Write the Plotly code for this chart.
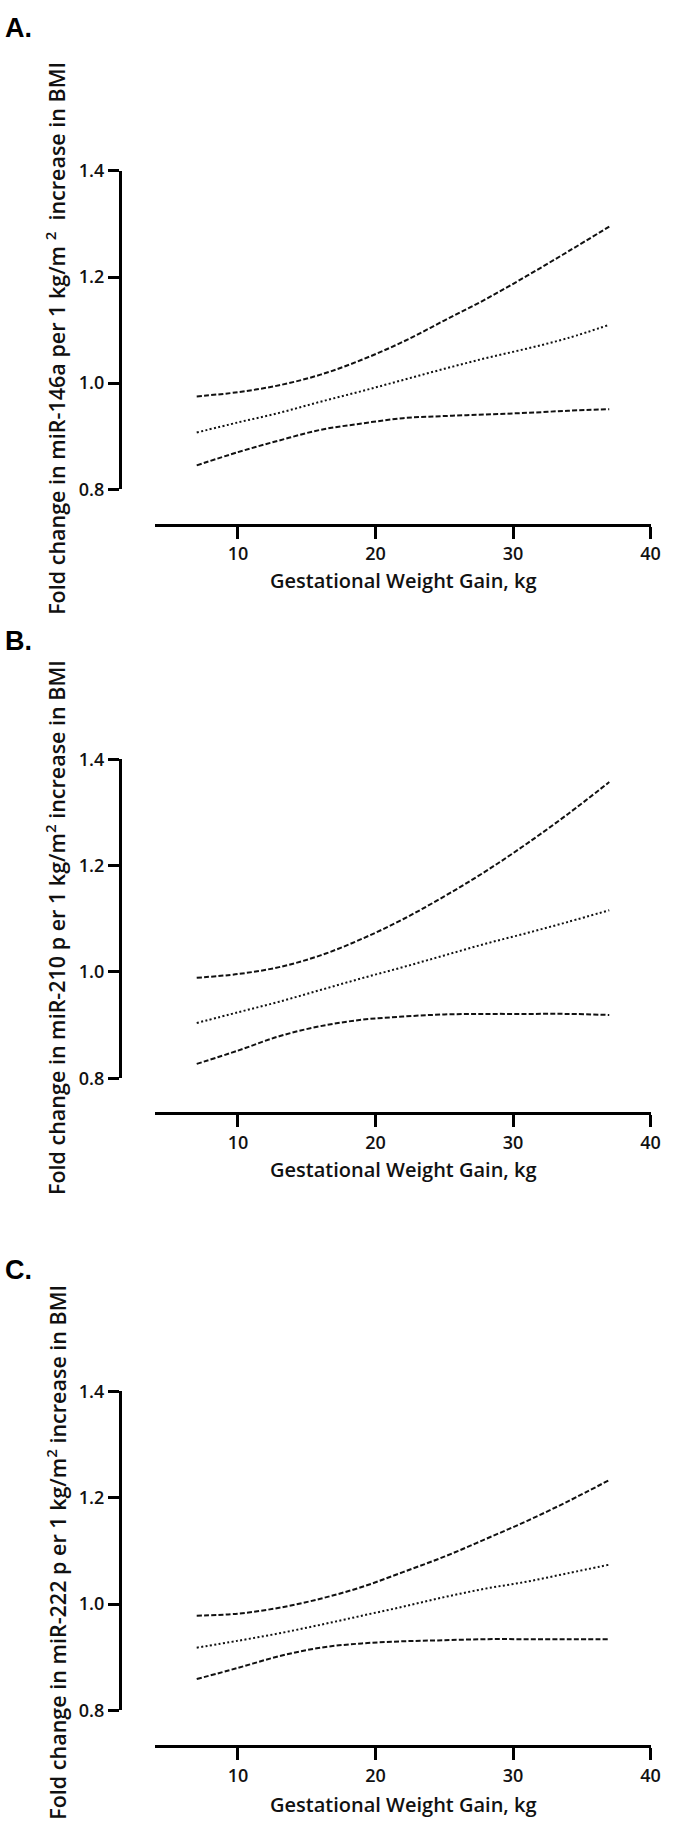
import plotly.graph_objects as go

# ---- data ----
gwg = [7, 10, 13, 16, 19, 22, 25, 28, 31, 34, 37]

a_upper = [0.975, 0.983, 0.996, 1.016, 1.044, 1.078, 1.118, 1.158, 1.202, 1.248, 1.295]
a_mid = [0.907, 0.926, 0.944, 0.965, 0.985, 1.006, 1.027, 1.047, 1.065, 1.085, 1.110]
a_lower = [0.845, 0.870, 0.892, 0.912, 0.924, 0.934, 0.938, 0.941, 0.944, 0.948, 0.951]

b_upper = [0.989, 0.996, 1.009, 1.031, 1.062, 1.099, 1.142, 1.189, 1.241, 1.297, 1.357]
b_mid = [0.904, 0.924, 0.944, 0.966, 0.988, 1.009, 1.031, 1.053, 1.073, 1.094, 1.116]
b_lower = [0.827, 0.852, 0.879, 0.898, 0.910, 0.916, 0.920, 0.921, 0.921, 0.921, 0.919]

c_upper = [0.978, 0.982, 0.993, 1.010, 1.032, 1.060, 1.089, 1.122, 1.156, 1.193, 1.233]
c_mid = [0.918, 0.931, 0.945, 0.961, 0.978, 0.995, 1.013, 1.029, 1.042, 1.058, 1.074]
c_lower = [0.859, 0.880, 0.902, 0.918, 0.926, 0.930, 0.932, 0.934, 0.934, 0.934, 0.934]

panel_labels = ["A.", "B.", "C."]
y_titles = [
    "Fold change in miR-146a per 1 kg/m <sup>2</sup>  increase in BMI",
    "Fold change in miR-210 p er 1 kg/m<sup>2</sup> increase in BMI",
    "Fold change in miR-222 p er 1 kg/m<sup>2</sup> increase in BMI",
]
x_title = "Gestational Weight Gain, kg"
y_ticks = [0.8, 1.0, 1.2, 1.4]
y_ticklabels = ["0.8", "1.0", "1.2", "1.4"]
x_ticks = [10, 20, 30, 40]

# ---- layout geometry (pixels) ----
W, H = 675, 1832
FONT = "Open Sans"
panels = [
    # (y of 1.4, y of 0.8, y of x-axis line, y of x-title, y-title center, label y)
    (160.0, 482.6, 518.5, 575.0, 330.0, 15.0),
    (756.1, 1079.4, 1115.0, 1172.0, 927.0, 636.0),
    (1396.5, 1720.0, 1756.4, 1815.0, 1560.0, 1274.0),
]
series = [(a_upper, a_mid, a_lower), (b_upper, b_mid, b_lower), (c_upper, c_mid, c_lower)]

x_left_px, x_right_px = 157.8, 660.3
yaxis_x_px = 121.7


def py(p):
    return 1 - p / H


fig = go.Figure()
annotations = []
layout_axes = {}

for i, (geo, (up, mid, lo)) in enumerate(zip(panels, series)):
    top, bot, xline, xt_y, yt_c, lab_y = geo
    n = "" if i == 0 else str(i + 1)
    xa, ya = "x" + n, "y" + n
    for vals, dash in ((up, "5px,2.2px"), (lo, "5px,2.2px"), (mid, "2px,2.4px")):
        fig.add_trace(go.Scatter(
            x=gwg, y=vals, mode="lines", xaxis=xa, yaxis=ya,
            line=dict(color="#111", width=2, dash=dash, shape="spline", smoothing=1.0),
            showlegend=False, hoverinfo="skip"))
    layout_axes["xaxis" + n] = dict(
        domain=[x_left_px / W, x_right_px / W], range=[4.0, 40.0],
        anchor="free", position=py(xline),
        showline=True, linewidth=3, linecolor="black",
        ticks="outside", ticklen=12, tickwidth=3, tickcolor="black",
        tickvals=x_ticks, showgrid=False, zeroline=False,
        tickfont=dict(family=FONT, size=18, color="#111", weight=600),
    )
    layout_axes["yaxis" + n] = dict(
        domain=[py(bot), py(top)], range=[0.8, 1.4],
        anchor="free", position=yaxis_x_px / W,
        showline=True, linewidth=3, linecolor="black",
        ticks="outside", ticklen=11, tickwidth=3, tickcolor="black",
        tickvals=y_ticks, ticktext=y_ticklabels, showgrid=False, zeroline=False,
        tickfont=dict(family=FONT, size=18, color="#111", weight=600),
    )
    annotations.append(dict(
        text=x_title, x=409.5 / W, y=py(xt_y), xref="paper", yref="paper",
        xanchor="center", yanchor="middle", showarrow=False,
        font=dict(family=FONT, size=20, color="#111", weight=600)))
    annotations.append(dict(
        text=y_titles[i], x=57.0 / W, y=py(yt_c), xref="paper", yref="paper",
        xanchor="center", yanchor="middle", showarrow=False, textangle=-90,
        font=dict(family=FONT, size=21.5, color="#111", weight=600)))
    annotations.append(dict(
        text=panel_labels[i], x=3 / W, y=py(lab_y), xref="paper", yref="paper",
        xanchor="left", yanchor="middle", showarrow=False,
        font=dict(family="Liberation Sans", size=27, color="black", weight="bold")))

fig.update_layout(
    width=W, height=H,
    margin=dict(l=0, r=0, t=0, b=0),
    paper_bgcolor="white", plot_bgcolor="white",
    annotations=annotations,
    **layout_axes,
)

fig.write_html("out.html", config={"displayModeBar": False},
               post_script="document.body.style.margin='0';")
